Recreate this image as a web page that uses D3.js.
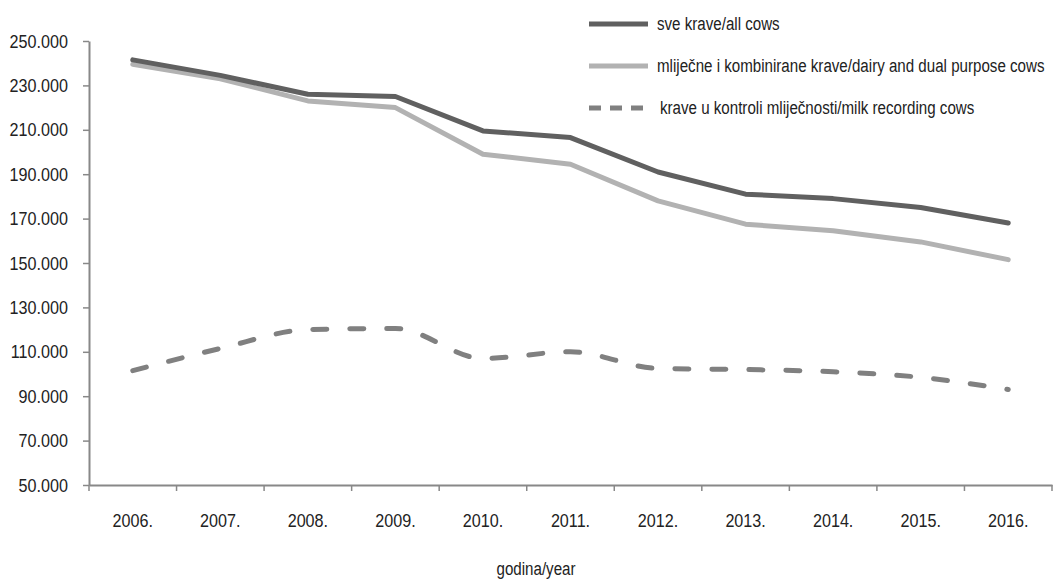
<!DOCTYPE html>
<html>
<head>
<meta charset="utf-8">
<script src="https://cdnjs.cloudflare.com/ajax/libs/d3/7.8.5/d3.min.js"></script>
<style>
  body { margin: 0; background: #fff; }
  svg text { font-family: "Liberation Sans Narrow", "Arial Narrow", "Liberation Sans", sans-serif; fill: #222; }
</style>
</head>
<body>
<svg id="chart"></svg>
<script>
// godine / years
const years = ['2006.', '2007.', '2008.', '2009.', '2010.', '2011.', '2012.', '2013.', '2014.', '2015.', '2016.'];

// broj krava
const allCows = [241500, 234500, 226000, 225000, 209500, 206500, 191000, 181000, 179000, 175000, 168000];
const dairyCows = [239500, 233000, 223000, 220000, 199000, 194500, 178000, 167500, 164500, 159500, 151500];
const milkRecording = [101500, 111500, 120000, 120500, 107000, 110000, 102500, 102000, 101000, 98500, 93000];

const yTicks = [50000, 70000, 90000, 110000, 130000, 150000, 170000, 190000, 210000, 230000, 250000];

const legendLabels = [
    'sve krave/all cows',
    'mliječne i kombinirane krave/dairy and dual purpose cows',
    'krave u kontroli mliječnosti/milk recording cows'
];

drawChart();

// squeeze text horizontally, no narrow font installed
function condense(sel, f) {
    sel.each(function () {
        const w = this.getComputedTextLength();
        d3.select(this)
            .attr('textLength', w * f)
            .attr('lengthAdjust', 'spacingAndGlyphs');
    });
}

function drawChart() {
    const width = 1058;
    const height = 580;
    const margin = { left: 89, right: 6, top: 41, bottom: 95 };

    let svg = d3.select('#chart')
        .attr('width', width)
        .attr('height', height);

    const x = d3.scaleBand()
        .domain(years)
        .range([margin.left, width - margin.right]);

    const y = d3.scaleLinear()
        .domain([50000, 250000])
        .range([height - margin.bottom, margin.top]);

    const fmt = v => d3.format(',')(v).replace(/,/g, '.');

    // y axis
    const yAxis = svg.append('g')
        .attr('transform', `translate(${margin.left},0)`)
        .call(d3.axisLeft(y).tickValues(yTicks).tickFormat(fmt).tickSize(6).tickSizeOuter(0).tickPadding(15));

    // x axis
    const xAxis = svg.append('g')
        .attr('transform', `translate(0,${height - margin.bottom})`)
        .call(d3.axisBottom(x).tickSize(0).tickPadding(29));

    // ticks between categories
    const bounds = years.map(d => x(d)).concat([x(years[years.length - 1]) + x.bandwidth()]);
    xAxis.selectAll('.sep')
        .data(bounds)
        .enter().append('line')
        .attr('class', 'sep')
        .attr('x1', d => d).attr('x2', d => d)
        .attr('y1', 0).attr('y2', 6)
        .attr('stroke', '#888').attr('stroke-width', 1.5);

    [yAxis, xAxis].forEach(a => {
        a.select('.domain').attr('stroke', '#888').attr('stroke-width', 2);
        a.selectAll('.tick line').attr('stroke', '#888').attr('stroke-width', 1.5);
        a.selectAll('.tick text').style('font-size', '19px').attr('fill', '#222');
        condense(a.selectAll('.tick text'), 0.85);
    });

    const xTitle = svg.append('text')
        .attr('x', 536)
        .attr('y', 575)
        .attr('text-anchor', 'middle')
        .style('font-size', '18px')
        .text('godina/year');
    condense(xTitle, 0.84);

    const cx = d => x(d) + x.bandwidth() / 2;

    const series = [
        { values: allCows, color: '#606060', dash: null, curve: d3.curveLinear },
        { values: dairyCows, color: '#b2b2b2', dash: null, curve: d3.curveLinear },
        { values: milkRecording, color: '#808080', dash: '14,23', curve: d3.curveMonotoneX }
    ];

    // draw dairy first so the dark line sits on top
    [series[1], series[0], series[2]].forEach(s => {
        const line = d3.line()
            .x((d, i) => cx(years[i]))
            .y(d => y(d))
            .curve(s.curve);
        svg.append('path')
            .datum(s.values)
            .attr('d', line)
            .attr('fill', 'none')
            .attr('stroke', s.color)
            .attr('stroke-width', 5)
            .attr('stroke-linecap', 'round')
            .attr('stroke-linejoin', 'round')
            .attr('stroke-dasharray', s.dash);
    });

    // legend
    const legend = svg.append('g').attr('transform', 'translate(589,24)');
    series.forEach((s, i) => {
        const g = legend.append('g').attr('transform', `translate(0,${i * 42})`);
        g.append('line')
            .attr('x1', 0).attr('x2', 59)
            .attr('y1', 0).attr('y2', 0)
            .attr('stroke', s.color)
            .attr('stroke-width', 5)
            .attr('stroke-dasharray', s.dash ? '12,9' : null);
        const t = g.append('text')
            .attr('x', i === 2 ? 71 : 68)
            .attr('y', 0)
            .attr('dy', '0.35em')
            .style('font-size', '18px')
            .text(legendLabels[i]);
        condense(t, 0.84);
    });
}
</script>
</body>
</html>
